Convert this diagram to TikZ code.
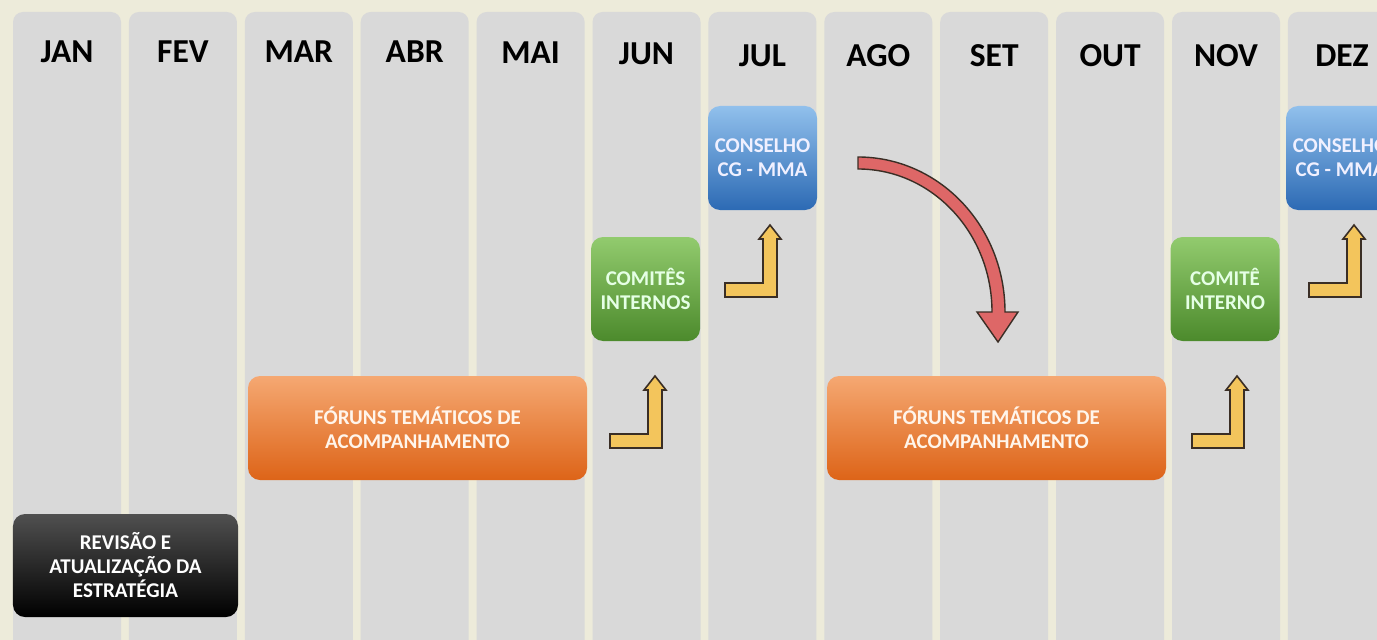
\documentclass[tikz,border=0pt]{standalone}
\usepackage{fontspec}
\setmainfont{Carlito}
\definecolor{bgc}{HTML}{EDEBDA}
\definecolor{colc}{HTML}{D9D9D9}
\definecolor{orT}{HTML}{F5A872}
\definecolor{orB}{HTML}{DD6418}
\definecolor{grT}{HTML}{92CB6E}
\definecolor{grB}{HTML}{4C8A2C}
\definecolor{blT}{HTML}{91C0EC}
\definecolor{blB}{HTML}{2C6AB4}
\definecolor{bkT}{HTML}{505050}
\definecolor{bkB}{HTML}{000000}
\definecolor{yel}{HTML}{F3C55C}
\definecolor{redf}{HTML}{DE6767}
\definecolor{edgec}{HTML}{3A2E25}
\tikzset{
  month/.style={font=\bfseries\fontsize{33.5bp}{36bp}\selectfont, text=black, inner sep=0pt},
  box/.style={rounded corners=12bp, inner sep=0pt, align=center, text=white,
    font=\bfseries\fontsize{21bp}{24bp}\selectfont},
  orbox/.style={box, top color=orT, bottom color=orB, minimum width=339bp, minimum height=104bp, text=white!92!orange},
  grbox/.style={box, top color=grT, bottom color=grB, minimum width=109bp, minimum height=104bp, text=white!90!green},
  blbox/.style={box, top color=blT, bottom color=blB, minimum width=109bp, minimum height=104bp, text=white!94!blue},
  bkbox/.style={box, top color=bkT, bottom color=bkB, minimum width=225bp, minimum height=103bp},
  yarrowstyle/.style={fill=yel, draw=edgec, line width=1.6bp, line join=miter},
  yarrow/.pic={\filldraw[yarrowstyle] (0,0) -- (11,14) -- (7,14) -- (7,72) -- (-45,72) -- (-45,58) -- (-7,58) -- (-7,14) -- (-11,14) -- cycle;}
}
\begin{document}
\begin{tikzpicture}[x=1bp,y=-1bp]
\useasboundingbox (0,0) rectangle (1377,640);
\clip (0,0) rectangle (1377,640);
\fill[bgc] (0,0) rectangle (1377,640);
\foreach \i/\m/\ly in {0/JAN/52,1/FEV/52,2/MAR/52,3/ABR/52,4/MAI/53,5/JUN/54,6/JUL/56,7/AGO/56,8/SET/56,9/OUT/56,10/NOV/56,11/DEZ/56}{
  \fill[colc, rounded corners=10bp] ({13+115.9*\i},12) rectangle ++(108,660);
  \node[month] (m\i) at ({67+115.9*\i},\ly) {\m};
}
% boxes
\node[bkbox] (rev) at (125.5,565.5) {REVISÃO E\\ATUALIZAÇÃO DA\\ESTRATÉGIA};
\node[orbox] (for1) at (417.5,428) {FÓRUNS TEMÁTICOS DE\\ACOMPANHAMENTO};
\node[orbox] (for2) at (996.5,428) {FÓRUNS TEMÁTICOS DE\\ACOMPANHAMENTO};
\node[grbox] (com1) at (645.5,289) {COMITÊS\\INTERNOS};
\node[grbox] (com2) at (1225,289) {COMITÊ\\INTERNO};
\node[blbox] (con1) at (762.5,158) {CONSELHO\\CG - MMA};
\node[blbox] (con2) at (1340.5,158) {CONSELHO\\CG - MMA};
% yellow bent arrows
\pic at (655,376) {yarrow};
\pic at (770,225) {yarrow};
\pic at (1237,376) {yarrow};
\pic at (1354,225) {yarrow};
% red curved arrow
\filldraw[fill=redf, draw=edgec, line width=1.4bp, line join=miter]
  (858,157) .. controls (939,157) and (1005,226) .. (1005,312)
  -- (1018,312) -- (998,342) -- (977,312) -- (992,312)
  .. controls (992,233) and (932,169) .. (858,169) -- cycle;
\end{tikzpicture}
\end{document}
